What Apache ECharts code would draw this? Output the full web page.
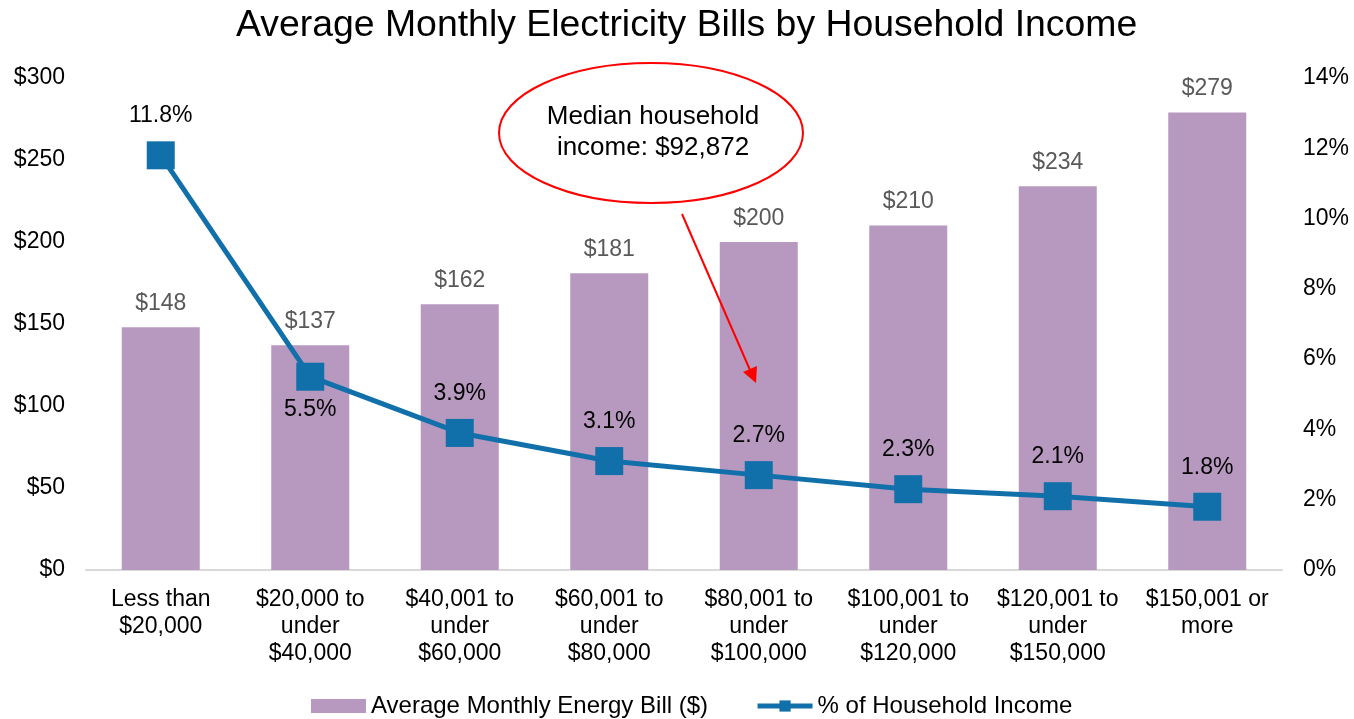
<!DOCTYPE html>
<html>
<head>
<meta charset="utf-8">
<script src="https://cdn.jsdelivr.net/npm/echarts@6/dist/echarts.min.js"></script>
<style>
  html, body { margin: 0; padding: 0; background: #fff; }
  #chart { width: 1354px; height: 719px; }
</style>
</head>
<body>
<div id="chart"></div>
<script>
// categories (income brackets)
const incomeBrackets = [
  'Less than\n$20,000',
  '$20,000 to\nunder\n$40,000',
  '$40,001 to\nunder\n$60,000',
  '$60,001 to\nunder\n$80,000',
  '$80,001 to\nunder\n$100,000',
  '$100,001 to\nunder\n$120,000',
  '$120,001 to\nunder\n$150,000',
  '$150,001 or\nmore'
]
// average monthly bill, dollars
const monthlyBill = [148, 137, 162, 181, 200, 210, 234, 279]
// share of household income, percent
const incomeShare = [11.8, 5.5, 3.9, 3.1, 2.7, 2.3, 2.1, 1.8]

const FONT = '"Liberation Sans", Arial, sans-serif'
const FS = 23
const chart = echarts.init(document.getElementById('chart'))

const option = {
  animation: false,
  textStyle: { fontFamily: FONT },
  title: {
    text: 'Average Monthly Electricity Bills by Household Income',
    left: 231,
    top: 2,
    textStyle: { fontFamily: FONT, fontSize: 37.4, fontWeight: 'normal', color: '#000' }
  },
  legend: {
    top: 689,
    left: 306,
    itemWidth: 55,
    itemHeight: 14,
    itemGap: 47,
    textStyle: { fontFamily: FONT, fontSize: 24, color: '#000' },
    data: [
      { name: 'Average Monthly Energy Bill ($)', icon: 'rect' },
      { name: '% of Household Income', lineStyle: { width: 5 } }
    ]
  },
  grid: { left: 86, right: 72, top: 78, bottom: 149 },
  xAxis: {
    type: 'category',
    data: incomeBrackets,
    axisLine: { lineStyle: { color: '#D9D9D9', width: 2 } },
    axisTick: { show: false },
    axisLabel: {
      interval: 0,
      margin: 16,
      fontSize: FS,
      lineHeight: 27,
      color: '#000',
      fontFamily: FONT
    }
  },
  yAxis: [{
    type: 'value',
    min: 0, max: 300, interval: 50,
    splitLine: { show: false },
    axisLine: { show: false },
    axisLabel: { fontSize: FS, color: '#000', margin: 21, formatter: '${value}', fontFamily: FONT }
  }, {
    type: 'value',
    min: 0, max: 14, interval: 2,
    splitLine: { show: false },
    axisLine: { show: false },
    axisLabel: { fontSize: FS, color: '#000', margin: 21, formatter: '{value}%', fontFamily: FONT }
  }],
  series: [{
    name: 'Average Monthly Energy Bill ($)',
    type: 'bar',
    data: monthlyBill,
    barWidth: 78,
    itemStyle: { color: '#B798BF' },
    label: {
      show: true,
      position: 'top',
      distance: 12,
      fontSize: FS,
      color: '#595959',
      fontFamily: FONT,
      formatter: '${c}'
    }
  }, {
    name: '% of Household Income',
    type: 'line',
    yAxisIndex: 1,
    data: incomeShare.map((v, i) => i === 1
      ? { value: v, label: { position: 'bottom', distance: 7 } }
      : v),
    symbol: 'rect',
    symbolSize: 28,
    lineStyle: { color: '#1170AA', width: 5 },
    itemStyle: { color: '#1170AA' },
    label: {
      show: true,
      position: 'top',
      distance: 14,
      fontSize: FS,
      color: '#000',
      fontFamily: FONT,
      formatter: '{c}%'
    },
    z: 5
  }],
  graphic: [{
    type: 'ellipse',
    shape: { cx: 651, cy: 133, rx: 152, ry: 70 },
    style: { fill: '#fff', stroke: '#FF0000', lineWidth: 2 },
    z: 10
  }, {
    type: 'text',
    x: 653, y: 132,
    style: {
      text: 'Median household\nincome: $92,872',
      font: '26px ' + FONT,
      fill: '#000',
      align: 'center',
      verticalAlign: 'middle',
      lineHeight: 31
    },
    z: 11
  }, {
    type: 'line',
    shape: { x1: 682, y1: 214, x2: 750, y2: 370 },
    style: { stroke: '#FF0000', lineWidth: 2 },
    z: 10
  }, {
    type: 'polygon',
    shape: { points: [[756, 383], [743, 372], [757, 366]] },
    style: { fill: '#FF0000' },
    z: 10
  }]
}

chart.setOption(option)
</script>
</body>
</html>
